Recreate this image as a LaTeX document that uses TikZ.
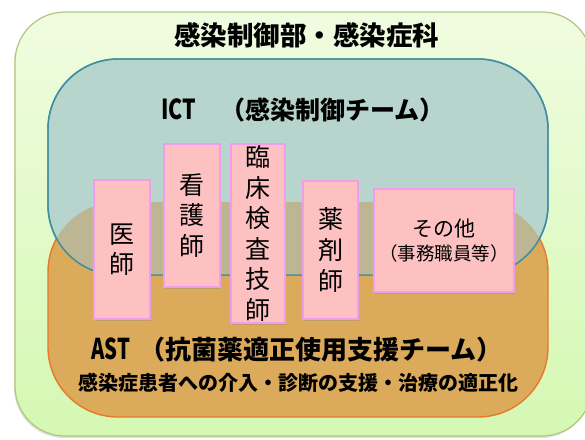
\documentclass[tikz,border=0pt]{standalone}
\usepackage{fontspec}
\newfontfamily\jpfont{Noto Sans CJK JP}
\usetikzlibrary{shadows}

\definecolor{outerline}{HTML}{B2C77C}
\definecolor{outertop}{HTML}{F0FCE0}
\definecolor{outerbot}{HTML}{D4F8B2}
\definecolor{ictfill}{HTML}{B7D4CD}
\definecolor{ictline}{HTML}{3E8FA3}
\definecolor{astfill}{HTML}{DCAA5B}
\definecolor{astline}{HTML}{E8782A}
\definecolor{overlapfill}{HTML}{BDB693}
\definecolor{rolefill}{HTML}{FDC1C1}
\definecolor{roleline}{HTML}{F29CEE}

\newcommand{\latinpart}[2]{\scalebox{#1}[1.1]{#2}}

\tikzset{
  role/.style={draw=roleline, fill=rolefill, line width=1.2pt, inner sep=0pt, align=center,
    font=\jpfont\fontsize{25}{30.6}\selectfont,
    drop shadow={shadow xshift=1pt, shadow yshift=-1.5pt, opacity=0.3}},
  heading/.style={font=\jpfont\bfseries\fontsize{#1}{#1}\selectfont, inner sep=0pt, anchor=west},
}

\begin{document}
\begin{tikzpicture}[x=1pt,y=-1pt]
	\useasboundingbox (0,0) rectangle (585,439);

	% outer frame
	\path[draw=outerline, line width=1.2pt, top color=outertop, bottom color=outerbot, rounded corners=50pt,
	      drop shadow={shadow xshift=-1pt, shadow yshift=-2pt, opacity=0.25}] (15,12) rectangle (592,436);

	% AST and ICT areas
	\filldraw[fill=astfill, draw=astline, line width=1.4pt, rounded corners=70pt] (48,202) rectangle (548,417);
	\filldraw[fill=ictfill, draw=ictline, line width=1.4pt, rounded corners=70pt] (48,59) rectangle (548,275);
	\begin{scope}
		\clip[rounded corners=70pt] (48,59) rectangle (548,275);
		\fill[overlapfill, rounded corners=70pt] (48,202) rectangle (548,417);
	\end{scope}
	\draw[ictline, line width=1.4pt, rounded corners=70pt] (48,59) rectangle (548,275);

	% headings
	\node[heading=26.5] (dept) at (174,35) {感染制御部・感染症科};
	\node[heading=25] (ict) at (161,110) {\latinpart{0.85}{ICT}\hspace{24pt}（感染制御チーム）};
	\node[heading=26] (ast) at (91,350) {\latinpart{0.78}{AST}\hspace{9pt}（抗菌薬適正使用支援チーム）};
	\node[heading=20] (astsub) at (78,383) {感染症患者への介入・診断の支援・治療の適正化};

	% members
	\node[role, minimum width=56pt, minimum height=139pt] (doctor) at (122,249.5) {医\\師};
	\node[role, minimum width=56pt, minimum height=143pt] (nurse) at (192,215.5) {看\\護\\師};
	\node[role, minimum width=54pt, minimum height=179pt] (labtech) at (258,233.5) {臨\\床\\検\\査\\技\\師};
	\node[role, minimum width=55pt, minimum height=138pt] (pharma) at (330.5,250) {薬\\剤\\師};
	\node[role, minimum width=140pt, minimum height=103pt, font=\jpfont\fontsize{21}{24}\selectfont] (other) at (444,240.5)
		{その他\\{\fontsize{18.5}{24}\selectfont （事務職員等）}};
\end{tikzpicture}
\end{document}
